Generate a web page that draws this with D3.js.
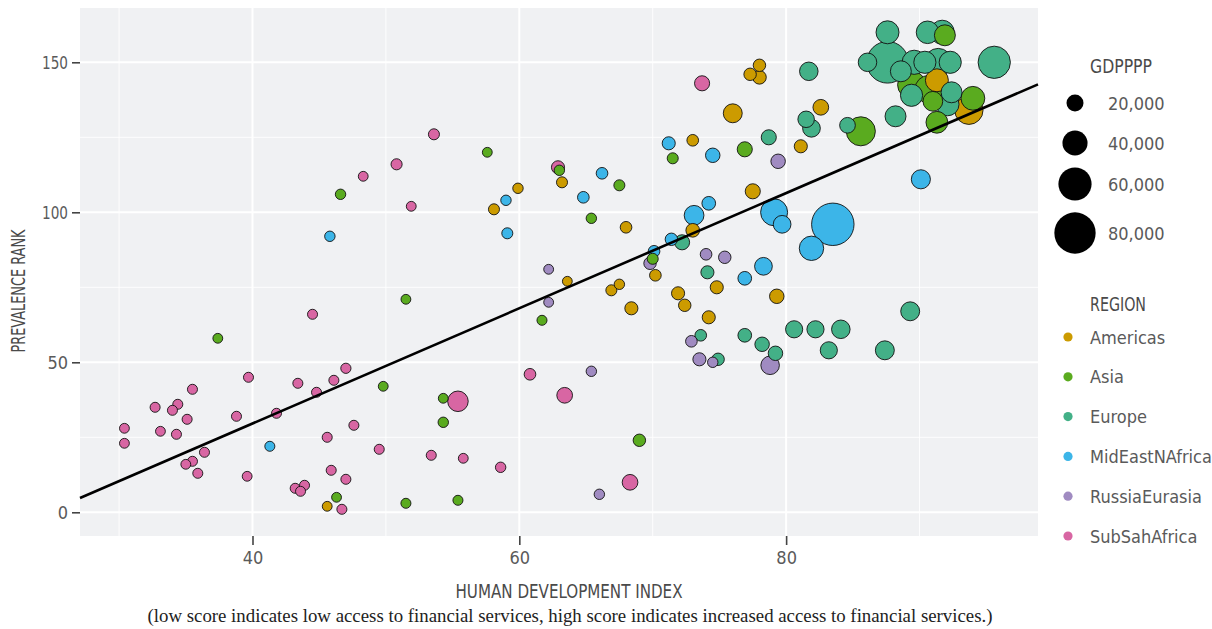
<!DOCTYPE html>
<html>
<head>
<meta charset="utf-8">
<script src="https://d3js.org/d3.v7.min.js"></script>
<style>
body { margin: 0; background: #fff; }
.cond { font-family: "DejaVu Sans Condensed", "Liberation Sans Narrow", "Roboto", sans-serif; }
</style>
</head>
<body>
<svg id="chart" width="1212" height="629"></svg>
<script>
// region names + fill colours
var regionNames = ["Americas", "Asia", "Europe", "MidEastNAfrica", "RussiaEurasia", "SubSahAfrica"];
var regionColors = ["#CC9B00", "#5AAB1F", "#43B087", "#3CB5E8", "#A08BC1", "#D866A3"];

// [human development index, prevalence rank, gdp ppp]
var americas = [
  [78.0,149,11000],[77.3,146,11000],[78.0,145,14000],[76.0,133,27000],[82.6,135,19000],
  [81.1,122,12600],[77.5,107,17500],[73.0,124,9000],[68.0,95,9000],[73.0,94,14000],
  [59.9,108,6000],[58.1,101,7500],[63.2,110,7500],[70.2,79,9000],[63.6,77,4500],
  [67.5,76,6000],[66.9,74,7500],[68.4,68,12600],[71.9,73,12600],[72.4,69,11000],
  [74.8,75,12600],[74.2,65,12600],[79.3,72,16000],[91.3,144,37000],[93.7,134,50000],
  [45.6,2,4500]
];
var asia = [
  [46.6,106,6000],[57.6,120,4500],[63.0,114,6000],[67.5,109,7500],[65.4,98,6000],
  [71.5,118,7500],[70.0,84.5,7500],[76.9,121,17500],[85.6,127,52000],[91.9,159,32000],
  [89.4,142.5,49000],[90.7,141,49000],[91.0,137,29000],[94.0,138,39000],[91.3,130,34000],
  [37.4,58,4500],[49.8,42,4500],[46.3,5,4500],[51.5,71,4500],[61.7,64,5000],
  [54.3,38,4500],[54.3,30,6000],[51.5,3,5000],[55.4,4,5000],[69.0,24,11000]
];
var europe = [
  [72.2,90,17500],[74.1,80,12600],[81.7,147,26000],[81.5,131,21000],[81.9,128,24000],
  [78.7,125,17500],[95.6,150,60000],[88.2,132,32000],[84.6,129,19000],[87.6,160,37000],
  [87.6,150,83000],[86.1,150,26000],[90.6,160,36000],[91.7,160,40000],[89.6,150,40000],
  [90.4,150,35000],[92.3,150,35000],[91.4,150,49000],[88.6,147,32000],[89.4,139,35000],
  [92.4,140,32000],[92.1,136,37000],[73.6,59,9000],[74.9,51,11000],[76.9,59,14000],
  [78.2,56,16000],[79.2,53,16000],[80.6,61,22600],[82.2,61,22600],[84.1,61,26000],
  [83.2,54,22600],[87.4,54,27000],[89.3,67,27000]
];
var midEast = [
  [45.8,92,6000],[59.0,104,6000],[59.1,93,7500],[66.2,113,9000],[64.8,105,9000],
  [71.2,123,12600],[74.5,119,16000],[74.2,103,14000],[73.1,99,29000],[71.4,91,11000],
  [70.1,87,9000],[79.1,100,47000],[79.7,96,24000],[83.5,96,85000],[81.9,88,40500],
  [78.3,82,24000],[76.9,78,14000],[90.1,111,27400],[41.3,22,5000]
];
var russia = [
  [69.8,83,11000],[74.0,86,9000],[75.4,85,11000],[62.2,81,4500],[62.2,70,4500],
  [79.4,117,16000],[72.9,57,9000],[73.5,51,12600],[74.5,50,6000],[65.4,47,6000],
  [66.0,6,6000],[78.8,49,26000]
];
var subSah = [
  [50.8,116,7700],[48.3,112,4500],[53.6,126,7500],[51.9,102,4500],[62.9,115,12600],
  [73.7,143,17500],[44.5,66,5000],[39.7,45,5000],[35.5,41,5000],[34.4,36,5000],
  [32.7,35,5000],[34.0,34,5000],[35.1,31,5000],[30.4,28,4500],[33.1,27,4500],
  [34.3,26,5000],[30.4,23,4500],[36.4,20,5000],[35.5,17,5000],[35.0,16,4500],
  [35.9,13,5000],[38.8,32,5000],[41.8,33,5000],[39.6,12,4500],[43.4,43,5000],
  [44.8,40,5000],[46.1,44,5000],[47.0,48,5500],[47.6,29,5000],[45.6,25,5000],
  [49.5,21,5000],[45.9,14,5000],[47.0,11,5000],[43.2,8,5000],[43.9,9,5000],
  [43.6,7,5000],[46.7,1,5000],[60.8,46,9000],[63.4,39,19000],[55.4,37,31000],
  [53.4,19,5000],[55.8,18,4500],[58.6,15,6000],[68.3,10,19000]
];
var regionData = [americas, asia, europe, midEast, russia, subSah];

// linear fit: rank = fitIntercept + fitSlope * hdi
var fitIntercept = -47.2;
var fitSlope = 1.92;

var xMajor = [40, 60, 80];
var xMinor = [30, 50, 70, 90];
var yMajor = [0, 50, 100, 150];
var yMinor = [25, 75, 125];
var sizeBreaks = [20000, 40000, 60000, 80000];

var panel = {left: 80, right: 1038, top: 8, bottom: 536};

var xScale = d3.scaleLinear().domain([27.07, 98.88]).range([panel.left, panel.right]);
var yScale = d3.scaleLinear().domain([-7.9, 168.1]).range([panel.bottom, panel.top]);
var rScale = d3.scaleLinear().domain([0, 80000]).range([4.45, 20.65]);

var svg = d3.select("#chart");

svg.append("rect")
  .attr("x", panel.left).attr("y", panel.top)
  .attr("width", panel.right - panel.left).attr("height", panel.bottom - panel.top)
  .attr("fill", "#F0F1F3");

var grid = svg.append("g");
grid.selectAll(".xmin").data(xMinor).enter().append("line")
  .attr("x1", d => xScale(d)).attr("x2", d => xScale(d))
  .attr("y1", panel.top).attr("y2", panel.bottom)
  .attr("stroke", "#fff").attr("stroke-width", 0.9);
grid.selectAll(".ymin").data(yMinor).enter().append("line")
  .attr("y1", d => yScale(d)).attr("y2", d => yScale(d))
  .attr("x1", panel.left).attr("x2", panel.right)
  .attr("stroke", "#fff").attr("stroke-width", 0.9);
grid.selectAll(".xmaj").data(xMajor).enter().append("line")
  .attr("x1", d => xScale(d)).attr("x2", d => xScale(d))
  .attr("y1", panel.top).attr("y2", panel.bottom)
  .attr("stroke", "#fff").attr("stroke-width", 2);
grid.selectAll(".ymaj").data(yMajor).enter().append("line")
  .attr("y1", d => yScale(d)).attr("y2", d => yScale(d))
  .attr("x1", panel.left).attr("x2", panel.right)
  .attr("stroke", "#fff").attr("stroke-width", 2);

// points, biggest first so the small ones sit on top
var points = [];
regionData.forEach(function(arr, ri) {
  arr.forEach(function(p) { points.push({hdi: p[0], rank: p[1], gdp: p[2], region: ri}); });
});
points.sort((a, b) => b.gdp - a.gdp);

svg.append("g").selectAll("circle")
  .data(points).enter().append("circle")
  .attr("cx", d => xScale(d.hdi))
  .attr("cy", d => yScale(d.rank))
  .attr("r", d => rScale(d.gdp) - 0.45)
  .attr("fill", d => regionColors[d.region])
  .attr("stroke", "#111")
  .attr("stroke-width", 0.9);

// fitted line across the whole panel
var fitX = xScale.domain();
svg.append("path")
  .datum(fitX.map(x => [x, fitIntercept + fitSlope * x]))
  .attr("d", d3.line().x(d => xScale(d[0])).y(d => yScale(d[1])))
  .attr("stroke", "#000").attr("stroke-width", 2.6).attr("fill", "none");

// axes
var axisY = d3.axisLeft(yScale).tickValues(yMajor).tickSize(8).tickPadding(4);
var gy = svg.append("g").attr("class", "cond").attr("transform", "translate(" + panel.left + ",0)").call(axisY);
var axisX = d3.axisBottom(xScale).tickValues(xMajor).tickSize(9).tickPadding(6);
var gx = svg.append("g").attr("class", "cond").attr("transform", "translate(0," + panel.bottom + ")").call(axisX);
[gx, gy].forEach(function(g) {
  g.select(".domain").remove();
  g.selectAll(".tick line").attr("stroke", "#444").attr("stroke-width", 1.6);
  g.selectAll(".tick text").attr("fill", "#5a5a5a").attr("font-size", 18)
    .attr("font-family", null);
});
gy.selectAll(".tick text").attr("textLength", 26).attr("lengthAdjust", "spacingAndGlyphs")
  .filter(d => d < 100).attr("textLength", null);

svg.append("text").attr("class", "cond")
  .attr("x", (panel.left + panel.right) / 2 + 10).attr("y", 598)
  .attr("text-anchor", "middle").attr("font-size", 20).attr("fill", "#4a4a4a")
  .attr("textLength", 227).attr("lengthAdjust", "spacingAndGlyphs")
  .text("HUMAN DEVELOPMENT INDEX");

svg.append("text").attr("class", "cond")
  .attr("transform", "translate(25,291) rotate(-90)")
  .attr("text-anchor", "middle").attr("font-size", 20).attr("fill", "#4a4a4a")
  .attr("textLength", 123).attr("lengthAdjust", "spacingAndGlyphs")
  .text("PREVALENCE RANK");

svg.append("text")
  .attr("x", 570).attr("y", 622)
  .attr("text-anchor", "middle").attr("font-size", 18).attr("fill", "#222")
  .attr("font-family", "'Liberation Serif', 'DejaVu Serif', serif")
  .attr("textLength", 845).attr("lengthAdjust", "spacingAndGlyphs")
  .text("(low score indicates low access to financial services, high score indicates increased access to financial services.)");

// size legend
var sizeKeyY = [103, 143, 184, 233];
var leg1 = svg.append("g").attr("class", "cond");
leg1.append("text").attr("x", 1090).attr("y", 73).attr("font-size", 19).attr("fill", "#4a4a4a")
  .attr("textLength", 62).attr("lengthAdjust", "spacingAndGlyphs").text("GDPPPP");
leg1.selectAll("circle").data(sizeBreaks).enter().append("circle")
  .attr("cx", 1075).attr("cy", (d, i) => sizeKeyY[i]).attr("r", d => rScale(d)).attr("fill", "#000");
leg1.selectAll(".lab").data(sizeBreaks).enter().append("text")
  .attr("x", 1108).attr("y", (d, i) => sizeKeyY[i] + 6.5)
  .attr("font-size", 18).attr("fill", "#5a5a5a")
  .text(d => d3.format(",")(d));

// region legend
var leg2 = svg.append("g").attr("class", "cond");
leg2.append("text").attr("x", 1090).attr("y", 311).attr("font-size", 19).attr("fill", "#4a4a4a")
  .attr("textLength", 56).attr("lengthAdjust", "spacingAndGlyphs").text("REGION");
leg2.selectAll("circle").data(regionNames).enter().append("circle")
  .attr("cx", 1068).attr("cy", (d, i) => 337 + i * 39.8).attr("r", 4.6)
  .attr("fill", (d, i) => regionColors[i]);
leg2.selectAll(".lab").data(regionNames).enter().append("text")
  .attr("x", 1090).attr("y", (d, i) => 343.5 + i * 39.8)
  .attr("font-size", 18).attr("fill", "#5a5a5a")
  .text(d => d);
</script>
</body>
</html>
